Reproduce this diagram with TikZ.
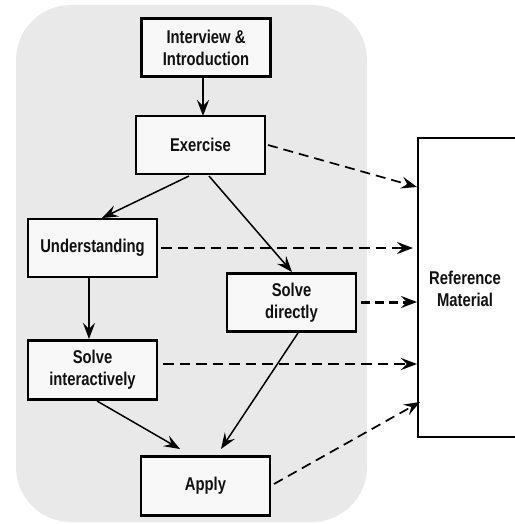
\documentclass[tikz,border=0pt]{standalone}
\usepackage{fontspec}
\newfontfamily\labfont[FakeStretch=0.8]{Liberation Sans}
\usetikzlibrary{arrows.meta}
\definecolor{bggray}{HTML}{E9E9E9}
\definecolor{boxfill}{HTML}{F8F8F8}
\definecolor{inkc}{HTML}{111111}
\tikzset{
  labtext/.style={text=inkc, align=center, font=\labfont\bfseries\fontsize{18.5}{22}\selectfont},
  flowbox/.style={labtext, draw=black, line width=2.8pt, fill=boxfill, minimum width=129pt, minimum height=58pt, inner sep=0pt},
  tipsolid/.style={-{Stealth[length=16pt,width=12pt,inset=6pt]}},
  flowarrow/.style={tipsolid, line width=1.5pt},
  thickarrow/.style={tipsolid, line width=2.8pt},
  refarrow/.style={tipsolid, line width=1.7pt, dash pattern=on 10pt off 6pt},
  refarrowb/.style={tipsolid, line width=2.3pt, dash pattern=on 10.5pt off 6pt},
  refarrowc/.style={tipsolid, line width=3pt, dash pattern=on 9pt off 5pt},
}
\begin{document}
\begin{tikzpicture}[x=1pt,y=-1pt]
\useasboundingbox (0,0) rectangle (514,524);
\fill[bggray, rounded corners=55pt] (16,5) rectangle (367,522);
\node[flowbox] (intro) at (206,47.5) {Interview \&\\Introduction};
\node[flowbox] (exer) at (200.5,145) {Exercise};
\node[flowbox] (und) at (92.5,248) {Understanding};
\node[flowbox] (sd) at (291.5,302.5) {Solve\\directly};
\node[flowbox, minimum height=59pt] (si) at (92.5,370) {Solve\\interactively};
\node[flowbox, minimum height=59pt] (apply) at (205.5,486) {Apply};
\draw[line width=2.8pt, fill=white] (418,138) rectangle (520,437);
\node[labtext] (ref) at (465,289) {Reference\\Material};
% connection points on the reference box
\coordinate (r1) at (417,187);
\coordinate (r2) at (413,248);
\coordinate (r3) at (417,302);
\coordinate (r4) at (417,364);
\coordinate (r5) at (420,402);
% start points
\coordinate (t1) at (203,78);
\coordinate (t2) at (203,116);
\coordinate (e1) at (189,176);
\coordinate (e2) at (209,176);
\coordinate (u1) at (102,218);
\coordinate (u2) at (89,278);
\coordinate (s1) at (292,272);
\coordinate (s2) at (298,333);
\coordinate (i1) at (89,339);
\coordinate (i2) at (97,401);
\coordinate (a1) at (180,449);
\coordinate (a2) at (221,449);
\coordinate (ie) at (163,364);
\coordinate (ae) at (274,484);
\coordinate (ue) at (161,248);
\coordinate (se) at (361,302);
\coordinate (ee) at (268,145);
% solid connectors
\draw[thickarrow] (t1) -- (t2);
\draw[flowarrow] (e1) -- (u1);
\draw[flowarrow] (e2) -- (s1);
\draw[flowarrow] (u2) -- (i1);
\draw[flowarrow] (i2) -- (a1);
\draw[flowarrow] (s2) -- (a2);
% dashed connectors
\draw[refarrow] (ee) -- (r1);
\draw[refarrowb] (ue) -- (r2);
\draw[refarrowc] (se) -- (r3);
\draw[refarrowb] (ie) -- (r4);
\draw[refarrow] (ae) -- (r5);
\end{tikzpicture}
\end{document}
